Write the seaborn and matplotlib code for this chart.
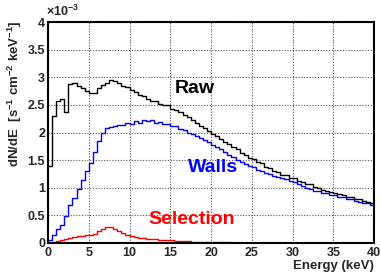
import numpy as np
import pandas as pd
import matplotlib
matplotlib.use("Agg")
import matplotlib.pyplot as plt
import seaborn as sns
from matplotlib.ticker import MultipleLocator, FuncFormatter

# spectra in units of 1e-3 s^-1 cm^-2 keV^-1, 0.5 keV bins from 0 to 40 keV
bin_width = 0.5
e_range = (0, 40)

raw = [1.40, 2.30, 2.58, 2.60, 2.38, 2.88, 2.90, 2.84, 2.80, 2.76,
       2.72, 2.71, 2.80, 2.86, 2.90, 2.95, 2.93, 2.90, 2.85, 2.83,
       2.77, 2.74, 2.68, 2.66, 2.60, 2.58, 2.57, 2.52, 2.50, 2.49,
       2.43, 2.41, 2.38, 2.31, 2.28, 2.22, 2.18, 2.12, 2.08, 2.02,
       1.97, 1.93, 1.88, 1.83, 1.79, 1.73, 1.70, 1.63, 1.60, 1.54,
       1.52, 1.46, 1.44, 1.38, 1.36, 1.31, 1.29, 1.24, 1.23, 1.18,
       1.17, 1.12, 1.11, 1.07, 1.06, 1.01, 1.00, 0.96, 0.95, 0.92,
       0.91, 0.88, 0.87, 0.84, 0.83, 0.80, 0.79, 0.76, 0.75, 0.72]

walls = [0.05, 0.15, 0.25, 0.32, 0.48, 0.68, 0.82, 0.98, 1.14, 1.30,
         1.45, 1.65, 1.85, 2.00, 2.08, 2.10, 2.12, 2.14, 2.13, 2.17,
         2.16, 2.20, 2.18, 2.23, 2.20, 2.22, 2.18, 2.19, 2.16, 2.15,
         2.12, 2.11, 2.06, 2.05, 2.00, 1.98, 1.93, 1.91, 1.86, 1.82,
         1.78, 1.74, 1.70, 1.65, 1.60, 1.55, 1.51, 1.46, 1.43, 1.39,
         1.37, 1.33, 1.31, 1.27, 1.25, 1.22, 1.20, 1.17, 1.15, 1.12,
         1.10, 1.06, 1.04, 1.00, 0.98, 0.95, 0.94, 0.91, 0.90, 0.87,
         0.86, 0.84, 0.83, 0.80, 0.79, 0.76, 0.75, 0.73, 0.72, 0.69]

selection = [0.000, 0.015, 0.030, 0.050, 0.065, 0.090, 0.110, 0.120, 0.130, 0.140,
             0.150, 0.170, 0.210, 0.250, 0.290, 0.290, 0.260, 0.220, 0.180, 0.140,
             0.120, 0.105, 0.095, 0.085, 0.078, 0.072, 0.066, 0.060, 0.055, 0.050,
             0.046, 0.042, 0.036, 0.032, 0.028, 0.025, 0.022, 0.019, 0.017, 0.015,
             0.013, 0.012, 0.011, 0.010, 0.009, 0.008, 0.008, 0.007, 0.007, 0.006,
             0.006, 0.005, 0.005, 0.005, 0.004, 0.004, 0.004, 0.004, 0.003, 0.003,
             0.003, 0.003, 0.003, 0.003, 0.002, 0.002, 0.002, 0.002, 0.002, 0.002,
             0.002, 0.002, 0.002, 0.002, 0.002, 0.001, 0.001, 0.001, 0.001, 0.001]

centers = np.arange(e_range[0], e_range[1], bin_width) + bin_width / 2

sns.set_style("white")
plt.rcParams['font.family'] = ['Liberation Sans', 'DejaVu Sans']
plt.rcParams['font.weight'] = 'bold'
plt.rcParams['mathtext.fontset'] = 'custom'
plt.rcParams['mathtext.rm'] = 'Liberation Sans:bold'
plt.rcParams['mathtext.bf'] = 'Liberation Sans:bold'
plt.rcParams['mathtext.it'] = 'Liberation Sans:bold'

fig = plt.figure(figsize=(3.81, 2.73), dpi=100)
ax = fig.add_axes([0.126, 0.110, 0.856, 0.809])

for vals, col in [(raw, "black"), (walls, "#0000ff"), (selection, "#ff0000")]:
    df = pd.DataFrame({"energy": centers, "rate": vals})
    sns.histplot(data=df, x="energy", weights="rate", binwidth=bin_width,
                 binrange=e_range, element="step", fill=False, color=col,
                 linewidth=1.0, ax=ax)

ax.set_xlim(0, 40)
ax.set_ylim(0, 4)
ax.xaxis.set_major_locator(MultipleLocator(5))
ax.xaxis.set_minor_locator(MultipleLocator(1))
ax.yaxis.set_major_locator(MultipleLocator(0.5))
ax.yaxis.set_minor_locator(MultipleLocator(0.1))
fmt = FuncFormatter(lambda v, p: "%g" % v)
ax.xaxis.set_major_formatter(fmt)
ax.yaxis.set_major_formatter(fmt)
ax.tick_params(which="both", direction="in", top=False, right=False,
               labelsize=9, color="black")
ax.tick_params(axis="x", pad=3)
ax.tick_params(axis="y", pad=2)
ax.tick_params(which="major", length=7, width=1)
ax.tick_params(which="minor", length=3.5, width=0.8)
for lab in ax.get_xticklabels() + ax.get_yticklabels():
    lab.set_fontweight("bold")

ax.grid(True, which="major", linestyle=(0, (1, 1.5)), color="#555555", linewidth=0.8)
for s in ax.spines.values():
    s.set_color("black")
    s.set_linewidth(1.5)

ax.set_xlabel("")
ax.set_ylabel("")
fig.text(0.982, 0.004, "Energy (keV)", ha="right", va="bottom",
         fontsize=9.5, fontweight="bold")
fig.text(0.04, 0.925, r"dN/dE  [s$^{-1}$ cm$^{-2}$ keV$^{-1}$]", rotation=90,
         ha="center", va="top", fontsize=9.5, fontweight="bold")
fig.text(0.122, 0.932, r"$\times$10$^{-3}$", ha="left", va="bottom",
         fontsize=9, fontweight="bold")

ax.text(15.5, 2.79, "Raw", color="black", fontsize=14, fontweight="bold",
        ha="left", va="center")
ax.text(17.2, 1.36, "Walls", color="#0000ff", fontsize=14, fontweight="bold",
        ha="left", va="center")
ax.text(12.3, 0.43, "Selection", color="#ff0000", fontsize=14, fontweight="bold",
        ha="left", va="center")

fig.savefig("out.png", dpi=100)
